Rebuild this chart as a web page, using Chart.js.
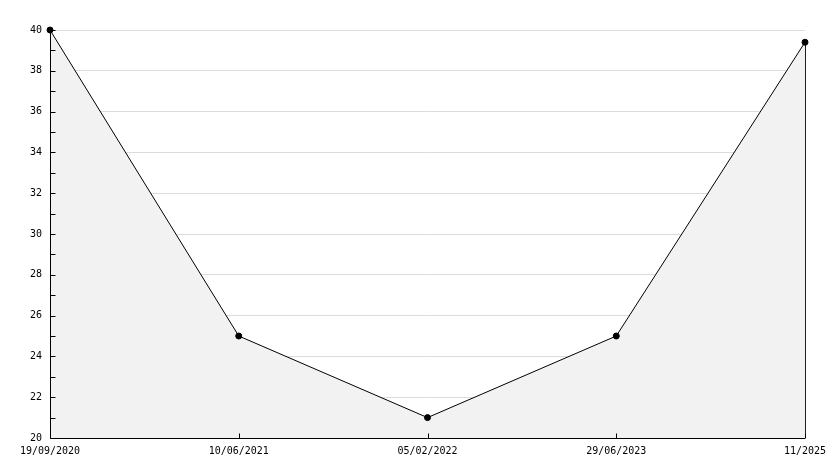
<!DOCTYPE html>
<html>
<head>
<meta charset="UTF-8">
<script src="https://cdn.jsdelivr.net/npm/chart.js"></script>
<style>
  body { margin: 0; background: #fff; }
</style>
</head>
<body>
<canvas id="c" width="834" height="468"></canvas>
<script>
// data
const dateLabels = ['19/09/2020', '10/06/2021', '05/02/2022', '29/06/2023', '11/2025'];
const values = [40, 25, 21, 25, 39.4];
const yMin = 20, yMax = 40;

const mainPoints = values.map((v, i) => ({ x: i, y: v }));
const last = values.length - 1;
const edgePoints = [{ x: last, y: values[last] }, { x: last, y: yMin }];

// axis lines and tick marks drawn inwards, over the fill, like the original
const innerTicks = {
  id: 'innerTicks',
  beforeDatasetDraw(chart, args) {
    if (args.index !== 0) return;
    const { ctx, scales: { x, y } } = chart;
    ctx.save();
    ctx.strokeStyle = '#000';
    ctx.lineWidth = 1;
    ctx.beginPath();
    const lx = Math.round(x.left) + 0.5;
    const by = Math.round(y.bottom) + 0.5;
    ctx.moveTo(lx, y.top);
    ctx.lineTo(lx, by);
    ctx.lineTo(x.right, by);
    for (let v = yMin; v <= yMax; v++) {
      const py = Math.round(y.getPixelForValue(v)) + 0.5;
      ctx.moveTo(lx, py);
      ctx.lineTo(lx + 5, py);
    }
    dateLabels.forEach((_, i) => {
      const px = Math.round(x.getPixelForValue(i)) + 0.5;
      ctx.moveTo(px, by);
      ctx.lineTo(px, by - 5);
    });
    ctx.stroke();
    ctx.restore();
  }
};

const font = { family: 'DejaVu Sans Mono', size: 10 };

new Chart(document.getElementById('c'), {
  type: 'line',
  data: {
    datasets: [
      {
        data: mainPoints,
        borderColor: '#000',
        borderWidth: 1,
        backgroundColor: '#f2f2f2',
        fill: 'start',
        tension: 0,
        clip: false,
        pointRadius: 3,
        pointBackgroundColor: '#000',
        pointBorderColor: '#000',
        pointStyle: 'circle'
      },
      {
        data: edgePoints,
        borderColor: '#000',
        borderWidth: 1,
        fill: false,
        clip: false,
        pointRadius: 0
      }
    ]
  },
  options: {
    responsive: false,
    animation: false,
    layout: { padding: { top: 30, right: 29, left: 0, bottom: 0 } },
    plugins: { legend: { display: false }, tooltip: { enabled: false } },
    scales: {
      x: {
        type: 'linear',
        min: 0,
        max: last,
        afterFit(s) { s.height = 30; },
        grid: { display: false, drawTicks: false },
        border: { display: false },
        ticks: {
          stepSize: 1,
          autoSkip: false,
          maxRotation: 0,
          padding: 7,
          color: '#000',
          font,
          callback: v => dateLabels[v]
        }
      },
      y: {
        min: yMin,
        max: yMax,
        afterFit(s) { s.width = 50; },
        grid: { color: '#dcdcdc', drawTicks: false },
        border: { display: false },
        ticks: { stepSize: 2, padding: 8, color: '#000', font }
      }
    }
  },
  plugins: [innerTicks]
});
</script>
</body>
</html>
